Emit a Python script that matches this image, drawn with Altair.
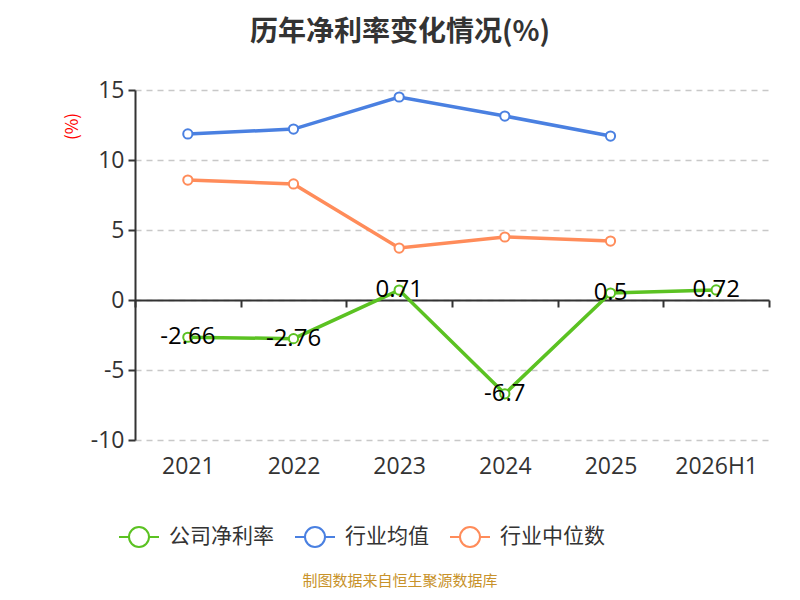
import altair as alt
import pandas as pd

years = ["2021", "2022", "2023", "2024", "2025", "2026H1"]
series_names = ["公司净利率", "行业均值", "行业中位数"]
company = [-2.66, -2.76, 0.71, -6.7, 0.5, 0.72]
industry_avg = [11.86, 12.21, 14.5, 13.14, 11.71]
industry_median = [8.57, 8.29, 3.71, 4.5, 4.21]
colors = ["#5BC222", "#4A80E1", "#FF8C5A"]
title_text = "历年净利率变化情况(%)"
footer_text = "制图数据来自恒生聚源数据库"

rows = []
for name, vals in zip(series_names, [company, industry_avg, industry_median]):
    for y, v in zip(years, vals):
        rows.append({"year": y, "series": name, "value": v, "label": str(v)})
df = pd.DataFrame(rows)

cjk = "Noto Sans CJK SC"
num = "Open Sans"

xscale = alt.Scale(type="band", domain=years, paddingInner=0, paddingOuter=0)
yscale = alt.Scale(domain=[-10, 15], nice=False, zero=False)
cscale = alt.Scale(domain=series_names, range=colors)

sym_path = "M-1,0L-0.5,0M0.5,0L1,0M-0.5,0A0.5,0.5 0 1,1 0.5,0A0.5,0.5 0 1,1 -0.5,0Z"

base = alt.Chart(df)

lines = base.mark_line(strokeWidth=3.5).encode(
    x=alt.X("year:N", scale=xscale, sort=years,
            axis=alt.Axis(title=None, orient="bottom", offset=-140, tickBand="extent",
                          grid=False, labelAngle=0, labelFontSize=23, labelFont=num,
                          labelColor="#333", labelPadding=148,
                          domainColor="#333", domainWidth=2,
                          tickColor="#333", tickWidth=2, tickSize=7)),
    y=alt.Y("value:Q", scale=yscale,
            axis=alt.Axis(values=[-10, -5, 0, 5, 10, 15], title="(%)",
                          labelExpr="datum.value + ''",
                          titleColor="red", titleFont=cjk, titleFontSize=17,
                          titleFontWeight="normal", titleX=-63, titleY=36,
                          titleAlign="center", titleBaseline="middle",
                          labelFontSize=23, labelFont=num, labelColor="#333",
                          labelPadding=4, tickSize=7, tickColor="#333",
                          tickWidth=2, domainColor="#333", domainWidth=2,
                          grid=True, gridDash=[6, 5], gridColor="#c8c8c8",
                          gridWidth=1.5)),
    color=alt.Color("series:N", scale=cscale,
                    legend=alt.Legend(title=None, orient="none", direction="horizontal",
                                      legendX=-17, legendY=426,
                                      symbolType=sym_path, symbolSize=1600,
                                      symbolStrokeWidth=2, symbolFillColor="white",
                                      labelFont=cjk, labelFontSize=21, labelColor="#333",
                                      labelOffset=9, columnPadding=17)),
)

points = base.mark_point(filled=True, fill="white", size=85, strokeWidth=2, opacity=1).encode(
    x=alt.X("year:N", scale=xscale, sort=years),
    y=alt.Y("value:Q", scale=yscale),
    stroke=alt.Stroke("series:N", scale=cscale, legend=None),
)

labels = base.transform_filter(alt.datum.series == "公司净利率").mark_text(
    fontSize=24, font=num, color="black", baseline="middle", align="center"
).encode(
    x=alt.X("year:N", scale=xscale, sort=years),
    y=alt.Y("value:Q", scale=yscale),
    text="label:N",
)

footer = alt.Chart(pd.DataFrame({"t": [footer_text]})).mark_text(
    font=cjk, fontSize=15, color="#C8922A", align="center", baseline="middle"
).encode(text="t:N", x=alt.value(265), y=alt.value(491))

chart = alt.layer(lines, points, labels, footer).properties(
    width=634, height=350,
    title=alt.TitleParams(title_text, font=cjk, fontSize=28, fontWeight="bold",
                          color="#333", dx=-52, offset=32, anchor="middle"),
    autosize=alt.AutoSizeParams(type="none"),
    padding={"left": 127, "top": 82, "right": 23, "bottom": 152},
).configure_view(stroke=None)

chart.save("out.html", embed_options={"renderer": "svg", "actions": False})
